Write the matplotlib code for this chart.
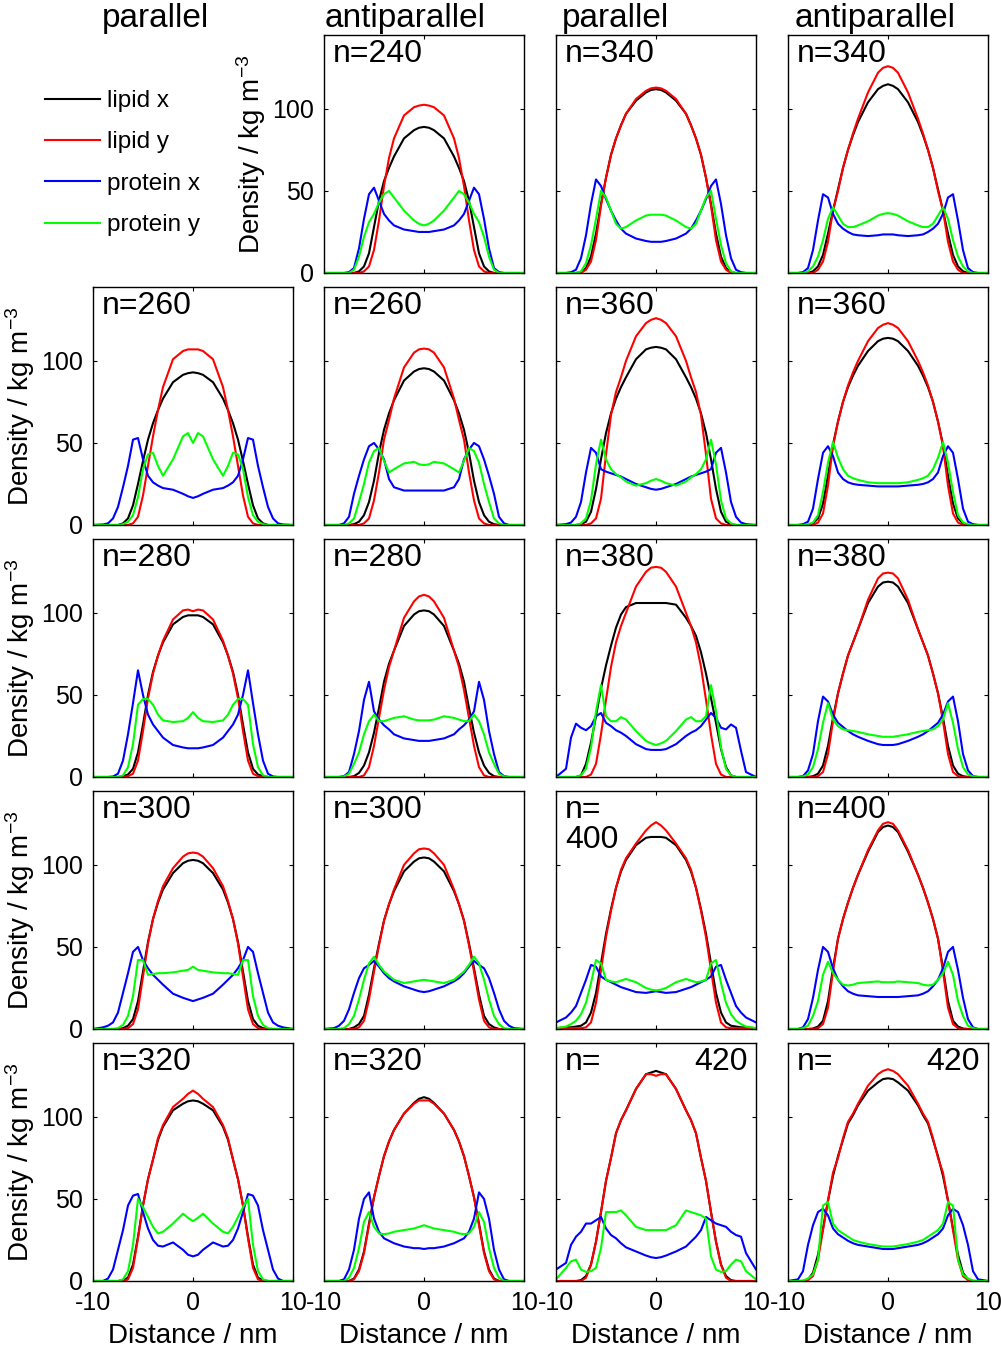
import matplotlib
matplotlib.use('Agg')
import matplotlib.pyplot as plt

plt.rcParams['font.family'] = ['Liberation Sans', 'DejaVu Sans']
plt.rcParams['mathtext.fontset'] = 'custom'
plt.rcParams['mathtext.rm'] = 'Liberation Sans'
plt.rcParams['mathtext.it'] = 'Liberation Sans:italic'
plt.rcParams['axes.unicode_minus'] = False

# distance grid (nm) shared by every profile
x = [-10, -9, -8.5, -8, -7.5, -7, -6.5, -6, -5.5, -5, -4.5, -4, -3.5, -3, -2, -1, -0.5,
     0, 0.5, 1, 2, 3, 3.5, 4, 4.5, 5, 5.5, 6, 6.5, 7, 7.5, 8, 8.5, 9, 10]

# antiparallel n=240
lx_a240 = [0,0,0,0,0,0,1,4,12,28,44,56,64,71,82,87,88.5,89,88.5,87,82,71,64,56,44,28,12,4,1,0,0,0,0,0,0]
ly_a240 = [0,0,0,0,0,0,0,1,4,14,32,53,70,82,96,101,102,102.5,102,101,96,82,70,53,32,14,4,1,0,0,0,0,0,0,0]
px_a240 = [0,0,0,0,0.5,3,15,33,48,52,44,36,32,29,26.5,25.5,25,25,25,25.5,26.5,29,32,36,44,52,48,33,15,3,0.5,0,0,0,0]
py_a240 = [0,0,0,0,0,2,10,22,31,36,43,48,50,46,38,32,30,29,30,32,38,46,50,48,43,36,31,22,10,2,0,0,0,0,0]

# parallel n=260
lx_p260 = [0,0,0,0,0,1,4,12,25,39,52,62,70,77,87,91.5,92.5,93,92.5,91.5,87,77,70,62,52,39,25,12,4,1,0,0,0,0,0]
ly_p260 = [0,0,0,0,0,0,0,1,5,18,36,54,70,84,101,106,107,107,107,106,101,84,70,54,36,18,5,1,0,0,0,0,0,0,0]
px_p260 = [0,0.3,1,4,11,23,36,52,53,40,30,26,24,22.5,21.5,19,17.5,16.5,17.5,19,21.5,22.5,24,26,30,40,53,52,36,23,11,4,1,0.3,0]
py_p260 = [0,0,0,0,0,0.5,2,6,17,34,43,44,36,30,40,54,56,50,56,54,40,30,36,44,43,34,17,6,2,0.5,0,0,0,0,0]

# antiparallel n=260
lx_a260 = [0,0,0,0,0,0.5,2,6,14,27,44,58,68,76,88,93.5,95,95.5,95,93.5,88,76,68,58,44,27,14,6,2,0.5,0,0,0,0,0]
ly_a260 = [0,0,0,0,0,0,0,1,4,15,32,52,64,77,96,105,107,107.5,107,105,96,77,64,52,32,15,4,1,0,0,0,0,0,0,0]
px_a260 = [0,0,0,1,5,19,30,40,48,50,46,40,28,23,21,21,21,21,21,21,21,23,28,40,46,50,48,40,30,19,5,1,0,0,0]
py_a260 = [0,0,0,0,1,4,14,25,38,45,47,39,32,34,37.5,38.5,37,36.5,37,38.5,37.5,34,32,39,47,45,38,25,14,4,1,0,0,0,0]

# parallel n=280
lx_p280 = [0,0,0,0,0,0.5,1.5,5,15,32,50,64,74,82,93,97.5,98.5,98.5,98.5,97.5,93,82,74,64,50,32,15,5,1.5,0.5,0,0,0,0,0]
ly_p280 = [0,0,0,0,0,0,0.5,2,10,28,48,63,74,83,96,101.5,102,101,102,101.5,96,83,74,63,48,28,10,2,0.5,0,0,0,0,0,0]
px_p280 = [0,0,0,0.3,2,10,26,45,65,50,38,32,28,24,19.5,18,17.5,17.5,17.5,18,19.5,24,28,32,38,50,65,45,26,10,2,0.3,0,0,0]
py_p280 = [0,0,0,0,0,1,6,20,44,47.5,47.5,44,38,34.5,33.5,34,36,39.5,36,34,33.5,34.5,38,44,47.5,47.5,44,20,6,1,0,0,0,0,0]

# antiparallel n=280
lx_a280 = [0,0,0,0,0,0.5,2.5,7,15,27,42,58,69,77,92,99,101,101.5,101,99,92,77,69,58,42,27,15,7,2.5,0.5,0,0,0,0,0]
ly_a280 = [0,0,0,0,0,0,0,1,6,19,36,53,67,77,97,107,110,111,110,107,97,77,67,53,36,19,6,1,0,0,0,0,0,0,0]
px_a280 = [0,0,0,0.5,3,14,28,47,58,40,35,31.5,29,26,23.5,22.5,22,22,22,22.5,23.5,26,29,31.5,35,40,58,47,28,14,3,0.5,0,0,0]
py_a280 = [0,0,0,0.3,2,8,15,26,34,38,34,34,35,36,37,35,34.5,34.5,34.5,35,37,36,35,34,34,38,34,26,15,8,2,0.3,0,0,0]

# parallel n=300
lx_p300 = [0,0,0,0,0,0.5,2,6,17,35,53,67,77,85,95,101,102.5,103,102.5,101,95,85,77,67,53,35,17,6,2,0.5,0,0,0,0,0]
ly_p300 = [0,0,0,0,0,0,0.5,3,12,32,52,67,78,87,98,105,107,107.5,107,105,98,87,78,67,52,32,12,3,0.5,0,0,0,0,0,0]
px_p300 = [0,1,2,4,10,22,34,47,50,42,37,33,30,27,21.5,19,18,17,18,19,21.5,27,30,33,37,42,50,47,34,22,10,4,2,1,0]
py_p300 = [0,0,0,0,0.5,2.5,8,20,42,42,33,33.5,34,34,34.5,35.5,36,38,36,35.5,34.5,34,34,33.5,33,42,42,20,8,2.5,0.5,0,0,0,0]

# antiparallel n=300
lx_a300 = [0,0,0,0,0,1,3,8,21,37,52,66,76,84,96,102,104,104.5,104,102,96,84,76,66,52,37,21,8,3,1,0,0,0,0,0]
ly_a300 = [0,0,0,0,0,0,1,5,18,35,51,66,76,85,100,107,109.5,110,109.5,107,100,85,76,66,51,35,18,5,1,0,0,0,0,0,0]
px_a300 = [0,0.5,2,5,12,22,31,37,39,41.5,38,34,31,29,26,24,23,22.5,23,24,26,29,31,34,38,41.5,39,37,31,22,12,5,2,0.5,0]
py_a300 = [0,0,0,0.5,3,8,18,30,40,44,39,35,32.5,30,28,29,29.5,30,29.5,29,28,30,32.5,35,39,44,40,30,18,8,3,0.5,0,0,0]

# parallel n=320
lx_p320 = [0,0,0,0,0,0.5,2,10,27,46,62,74,86,94,104,108,109.5,110,109.5,108,104,94,86,74,62,46,27,10,2,0.5,0,0,0,0,0]
ly_p320 = [0,0,0,0,0,0,1,8,26,46,62,74,87,95,106,111,114,116,114,111,106,95,87,74,62,46,26,8,1,0,0,0,0,0,0]
px_p320 = [0,0,1.5,7,19,31,46,52,53,42,32,25,21.5,21,23.5,19,16,15,16,19,23.5,21,21.5,25,32,42,53,52,46,31,19,7,1.5,0,0]
py_p320 = [0,0,0,0,0,1,6,22,50,45,39,33,29,30,35,41,38.5,36.5,38.5,41,35,30,29,33,39,45,50,22,6,1,0,0,0,0,0]

# antiparallel n=320
lx_a320 = [0,0,0,0,0,1.5,7,18,35,51,64,76,85,92,102,108.5,111,112,111,108.5,102,92,85,76,64,51,35,18,7,1.5,0,0,0,0,0]
ly_a320 = [0,0,0,0,0,1,6,17,34,51,64,76,85,92,102,108,110,110,110,108,102,92,85,76,64,51,34,17,6,1,0,0,0,0,0]
px_a320 = [0,0,0,1,7,19,38,50,54,38,30,26,24.5,23,21,20,20,19.5,20,20,21,23,24.5,26,30,38,54,50,38,19,7,1,0,0,0]
py_a320 = [0,0,0,0,2,8,20,36,42,33,29,28.5,29,30,31,32,33,34,33,32,31,30,29,28.5,29,33,42,36,20,8,2,0,0,0,0]

# parallel n=340
lx_p340 = [0,0,0,0,0.5,3,10,24,42,58,72,82,90,97,105,110,111.5,112,111.5,110,105,97,90,82,72,58,42,24,10,3,0.5,0,0,0,0]
ly_p340 = [0,0,0,0,0,2,7,20,41,58,72,82,90,97,106,111,112.5,113,112.5,111,106,97,90,82,72,58,41,20,7,2,0,0,0,0,0]
px_p340 = [0,0,0.5,2,9,23,42,57,53,45,38,32,27,24,21,19.5,19,19,19,19.5,21,24,27,32,38,45,53,57,42,23,9,2,0.5,0,0]
py_p340 = [0,0,0,0,1,6,17,33,50,46,38,30,27,28,32,35,35.5,35.5,35.5,35,32,28,27,30,38,46,50,33,17,6,1,0,0,0,0]

# antiparallel n=340
lx_a340 = [0,0,0,0,1,4,11,24,38,51,64,75,84,92,104,112,114,115,114,112,104,92,84,75,64,51,38,24,11,4,1,0,0,0,0]
ly_a340 = [0,0,0,0,0,2,7,19,38,50,64,75,85,94,110,122,125,126,125,122,110,94,85,75,64,50,38,19,7,2,0,0,0,0,0]
px_a340 = [0,0,0.5,3,14,32,48,46,36,30,27,25,23.5,23,22.5,23,23.5,23.5,23.5,23,22.5,23,23.5,25,27,30,36,46,48,32,14,3,0.5,0,0]
py_a340 = [0,0,0,1,4,10,20,33,40,35,30,28,28,29,31.5,35,36,36.5,36,35,31.5,29,28,28,30,35,40,33,20,10,4,1,0,0,0]

# parallel n=360
lx_p360 = [0,0,0,0,0.5,2,8,22,40,56,68,77,84,90,101,107,108,108.5,108,107,101,90,84,77,68,56,40,22,8,2,0.5,0,0,0,0]
ly_p360 = [0,0,0,0,0,0,1,4,16,43,67,81,90,100,115,123,125,126,125,123,115,100,90,81,67,43,16,4,1,0,0,0,0,0,0]
px_p360 = [0,0.5,1.5,5,14,32,47,44,34,32.5,31.5,30.5,29.5,28,25,23,22,21.5,22,23,25,28,29.5,30.5,31.5,32.5,34,44,47,32,14,5,1.5,0.5,0]
py_p360 = [0,0,0,0,1,4,15,37,52,40,34,31,29,26.5,24,25.5,27,28,27,25.5,24,26.5,29,31,34,40,52,37,15,4,1,0,0,0,0]

# antiparallel n=360
lx_a360 = [0,0,0,0,1,4,13,30,49,63,75,84,91,97,106,112,113.5,114,113.5,112,106,97,91,84,75,63,49,30,13,4,1,0,0,0,0]
ly_a360 = [0,0,0,0,0,1.5,7,24,48,63,75,85,93,100,112,120,122,123,122,120,112,100,93,85,75,63,48,24,7,1.5,0,0,0,0,0]
px_a360 = [0,0,0.5,2,10,28,44,48,42,32,28,26,25,24.5,24,23.5,23.5,23.5,23.5,23.5,24,24.5,25,26,28,32,42,48,44,28,10,2,0.5,0,0]
py_a360 = [0,0,0,0.5,1.5,6,20,38,50.5,41,34,30,28.5,27.5,26,25.5,25.5,25.5,25.5,25.5,26,27.5,28.5,30,34,41,50.5,38,20,6,1.5,0.5,0,0,0]

# parallel n=380
lx_p380 = [0,0,0,0,1,8,21,37,54,68,80,91,99,103.5,106,106,106,106,106,106,105,97,92,86,76,63,48,33,17,6,1,0,0,0,0]
ly_p380 = [0,0,0,0,0,0,1.5,8,26,47,67,82,92,100,116,125,127.5,128,127.5,125,116,100,92,82,67,47,26,8,1.5,0,0,0,0,0,0]
px_p380 = [0,5,24,32.5,30,28.5,31,37,39,33,31,28.5,27,25,20,17,16.5,16.5,16.5,17,20,25,27,28.5,31,35,39,36,30,29,32,30,16,3,0]
py_p380 = [0,0,0,0,1,5,18,40,56,37,34,34,36.5,35,28,22,20.5,19.5,20.5,22,28,35,36.5,34,34,37,56,40,18,5,1,0,0,0,0]

# antiparallel n=380
lx_a380 = [0,0,0,0,0.5,2,7,19,36,51,63,74,82,90,106,116,118.5,119,118.5,116,106,90,82,74,63,51,36,19,7,2,0.5,0,0,0,0]
ly_a380 = [0,0,0,0,0,0.5,3,14,34,51,63,74,82,90,108,121,124,124.5,124,121,108,90,82,74,63,51,34,14,3,0.5,0,0,0,0,0]
px_a380 = [0,0,0.5,4,14,34,49,46,38,33,30.5,28,26,24.5,22,20,19.5,19.5,19.5,20,22,24.5,26,28,30.5,33,38,46,49,34,14,4,0.5,0,0]
py_a380 = [0,0,0.3,1.5,6,17,33,45,35,31,29,28.5,28,27.5,26,25,24.5,24.5,24.5,25,26,27.5,28,28.5,29,31,35,45,33,17,6,1.5,0.3,0,0]

# parallel n=400
lx_p400 = [0.5,1,1,1.5,2,4,10,22,40,58,73,86,96,103,112,116.5,117,117,117,116.5,112,103,96,86,73,58,40,22,10,4,2,1.5,1,1,0.5]
ly_p400 = [0.5,0.5,0.5,0.5,0.5,1,4,16,36,56,72,86,97,104,113,121,124,126,124,121,113,104,97,86,72,56,36,16,4,1,0.5,0.5,0.5,0.5,0.5]
px_p400 = [4,7,10,14,22,30,39,38,32,30,28.5,27,25.5,24.5,22.5,22,22.5,23,22.5,22,22.5,24.5,25.5,27,28.5,30,32,38,39,30,22,14,10,7,4]
py_p400 = [0.5,1.5,3,5,9,16,28,42,40,30,29,28.5,29.5,30.5,28.5,25,24,23.5,24,25,28.5,30.5,29.5,28.5,29,30,40,42,28,16,9,5,3,1.5,0.5]

# antiparallel n=400
lx_a400 = [0,0,0,0,0.3,1.5,5,17,37,55,67,77,86,94,108,120,123,124,123,120,108,94,86,77,67,55,37,17,5,1.5,0.3,0,0,0,0]
ly_a400 = [0,0,0,0,0,0.5,3,13,35,55,67,77,86,94,109,121,125,126,125,121,109,94,86,77,67,55,35,13,3,0.5,0,0,0,0,0]
px_a400 = [0,0,1,6,19,36,50,47,37,30,26,23,21.5,20.5,20,19.5,19.5,19.5,19.5,19.5,20,20.5,21.5,23,26,30,37,47,50,36,19,6,1,0,0]
py_a400 = [0,0,0.5,2,8,17,33,41,34,30,27,26.5,27,28,28.5,29,28.5,28.5,28.5,29,28.5,28,27,26.5,27,30,34,41,33,17,8,2,0.5,0,0]

# parallel n=420
lx_p420 = [0,0,0,0,0.5,3,10,24,42,61,75,90,98,104,117,126,127,128,127,126,117,104,98,90,75,61,42,24,10,3,0.5,0,0,0,0]
ly_p420 = [0,0,0,0,0,2,10,24,42,61,75,90,98,104,117,126,126,125,126,126,117,104,98,90,75,61,42,24,10,2,0,0,0,0,0]
px_p420 = [7,11,22,27,30,35,35,37,39,32,28,26,23,20.5,18,15.5,14.5,14,14.5,15.5,18,21,24,27,31,39,37,35,34,33,30,28,27,17,7]
py_p420 = [1,8,12,13,7,5.5,6,8,20,42,42,42,43,40,33,31,31,31,31,31,34,43,42,41,40,38,15,7,5.5,6,10,13,12,6,1]

# antiparallel n=420
lx_a420 = [0,0,0,1,5,16,32,49,64,76,86,96,101,107,116,121,123,123.5,123,121,116,107,101,96,86,76,64,49,32,16,5,1,0,0,0]
ly_a420 = [0,0,0,0.5,3,13,31,49,66,75,87,97,102,108,119,126,128,129,128,126,119,108,102,97,87,75,66,49,31,13,3,0.5,0,0,0]
px_a420 = [0,1,6,22,34,42,44,40,32,28.5,26.5,24.5,23,22,21,20,19.5,19.5,19.5,20,21,22,23,24.5,26.5,28.5,32,40,44,42,34,22,6,1,0]
py_a420 = [0,0,0.3,1.5,4,13,46,48,35,31,29,27,25,24,22.5,21.5,21,21,21,21.5,22.5,24,25,27,29,31,35,48,46,13,4,1.5,0.3,0,0]

# (row, column, label, lipid x, lipid y, protein x, protein y)
panels = [
    (0, 1, 'n=240', lx_a240, ly_a240, px_a240, py_a240),
    (0, 2, 'n=340', lx_p340, ly_p340, px_p340, py_p340),
    (0, 3, 'n=340', lx_a340, ly_a340, px_a340, py_a340),
    (1, 0, 'n=260', lx_p260, ly_p260, px_p260, py_p260),
    (1, 1, 'n=260', lx_a260, ly_a260, px_a260, py_a260),
    (1, 2, 'n=360', lx_p360, ly_p360, px_p360, py_p360),
    (1, 3, 'n=360', lx_a360, ly_a360, px_a360, py_a360),
    (2, 0, 'n=280', lx_p280, ly_p280, px_p280, py_p280),
    (2, 1, 'n=280', lx_a280, ly_a280, px_a280, py_a280),
    (2, 2, 'n=380', lx_p380, ly_p380, px_p380, py_p380),
    (2, 3, 'n=380', lx_a380, ly_a380, px_a380, py_a380),
    (3, 0, 'n=300', lx_p300, ly_p300, px_p300, py_p300),
    (3, 1, 'n=300', lx_a300, ly_a300, px_a300, py_a300),
    (3, 2, 'n=\n400', lx_p400, ly_p400, px_p400, py_p400),
    (3, 3, 'n=400', lx_a400, ly_a400, px_a400, py_a400),
    (4, 0, 'n=320', lx_p320, ly_p320, px_p320, py_p320),
    (4, 1, 'n=320', lx_a320, ly_a320, px_a320, py_a320),
    (4, 2, 'n=|420', lx_p420, ly_p420, px_p420, py_p420),
    (4, 3, 'n=|420', lx_a420, ly_a420, px_a420, py_a420),
]

col_titles = ['parallel', 'antiparallel', 'parallel', 'antiparallel']
series_names = ['lipid x', 'lipid y', 'protein x', 'protein y']
series_colors = ['k', (1, 0, 0), (0, 0, 1), (0, 1, 0)]

W, H = 1001, 1349
col_left = [93, 324, 556, 788]
row_top = [35, 287, 539, 791, 1043]
pw, ph = 200, 238

fig = plt.figure(figsize=(W / 100, H / 100), dpi=100)

handles = None
for row, col, label, *curves in panels:
    ax = fig.add_axes([col_left[col] / W, 1 - (row_top[row] + ph) / H, pw / W, ph / H])
    lines = []
    for yv, c in zip(curves, series_colors):
        ln, = ax.plot(x, yv, color=c, lw=1.5)
        lines.append(ln)
    if handles is None:
        handles = lines
    ax.set_xlim(-10, 10)
    ax.set_ylim(0, 145)
    ax.set_xticks([-10, 0, 10])
    ax.set_yticks([0, 50, 100])
    ax.tick_params(direction='in', top=True, right=True, length=3, width=0.8,
                   labelsize=18, pad=7)
    for sp in ax.spines.values():
        sp.set_linewidth(1.0)
    if col == 0 or (row == 0 and col == 1):
        ax.set_ylabel('Density / kg m$^{-3}$', fontsize=20, labelpad=3)
    else:
        ax.set_yticklabels([])
    if row == 4:
        ax.set_xlabel('Distance / nm', fontsize=20, labelpad=6)
    else:
        ax.set_xticklabels([])
    if '|' in label:
        left, right = label.split('|')
        ax.text(0.045, 0.985, left, transform=ax.transAxes, ha='left', va='top', fontsize=23)
        ax.text(0.96, 0.985, right, transform=ax.transAxes, ha='right', va='top', fontsize=23)
    else:
        ax.text(0.045, 0.985, label, transform=ax.transAxes, ha='left', va='top',
                fontsize=23, linespacing=1.0)

title_x = [102, 325, 562, 795]
for tx, t in zip(title_x, col_titles):
    fig.text(tx / W, 1 - 27 / H, t, fontsize=24, va='baseline', ha='left')

fig.legend(handles, series_names, loc='upper left', bbox_to_anchor=(45 / W, 1 - 90 / H),
           frameon=False, fontsize=17.5, handlelength=2.26, handletextpad=0.3,
           labelspacing=0.8, borderpad=0, borderaxespad=0)

fig.savefig('out.png', dpi=100)
